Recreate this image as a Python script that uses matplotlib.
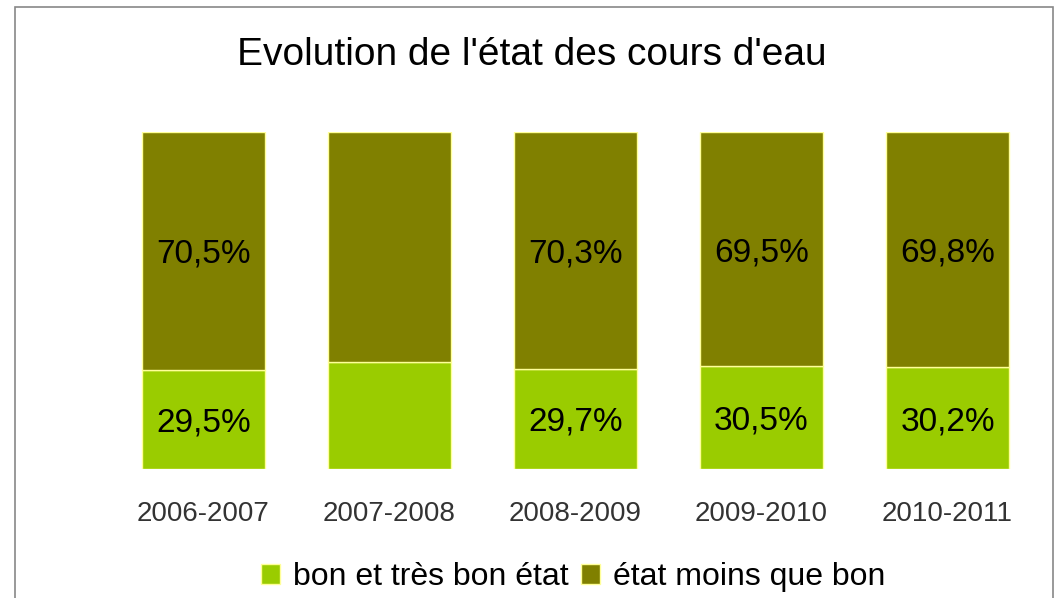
import numpy as np
import matplotlib
matplotlib.use("Agg")
import matplotlib.pyplot as plt
from matplotlib.patches import Rectangle

plt.rcParams['font.family'] = ['Liberation Sans', 'DejaVu Sans']

# Data
years = ["2006-2007", "2007-2008", "2008-2009", "2009-2010", "2010-2011"]
bon = [29.5, 31.7, 29.7, 30.5, 30.2]
moins_bon = [70.5, 68.3, 70.3, 69.5, 69.8]
show_labels = [True, False, True, True, True]

green = "#9acc00"
olive = "#808000"
edge = "#ffff99"

fig = plt.figure(figsize=(10.54, 5.98), dpi=100)
W, H = 1054, 598

# Plot area in pixel coordinates
left, right, top, bottom = 110.5, 1040.5, 132, 469
ax = fig.add_axes([left / W, 1 - bottom / H, (right - left) / W, (bottom - top) / H])

x = np.arange(len(years))
ax.bar(x, bon, width=0.66, color=green, edgecolor=edge, linewidth=1)
ax.bar(x, moins_bon, width=0.66, bottom=bon, color=olive, edgecolor=edge, linewidth=1)

for i in range(len(years)):
    if show_labels[i]:
        ax.text(x[i], bon[i] / 2, ("%.1f%%" % bon[i]).replace(".", ","),
                ha="center", va="center_baseline", fontsize=24, color="black")
        ax.text(x[i], bon[i] + moins_bon[i] / 2, ("%.1f%%" % moins_bon[i]).replace(".", ","),
                ha="center", va="center_baseline", fontsize=24, color="black")

ax.set_xlim(-0.5, 4.5)
ax.set_ylim(0, 100)
ax.set_xticks(x)
ax.set_xticklabels(years, fontsize=20, color="#333333")
ax.tick_params(axis="x", length=0, pad=23)
ax.set_yticks([])
for s in ax.spines.values():
    s.set_visible(False)

# Title
fig.text(531.5 / W, 1 - 55 / H, "Evolution de l'état des cours d'eau",
         ha="center", va="center", fontsize=28)

# Legend
handles = [Rectangle((0, 0), 1, 1, facecolor=green, edgecolor=edge),
           Rectangle((0, 0), 1, 1, facecolor=olive, edgecolor=edge)]
fig.legend(handles, ["bon et très bon état", "état moins que bon"],
           loc="center", bbox_to_anchor=(573 / W, 1 - 577 / H), ncol=2,
           frameon=False, fontsize=23, handlelength=0.6, handleheight=0.6,
           handletextpad=0.4, columnspacing=0.4, borderpad=0)

# Outer border (bottom edge lies outside the image)
fig.patches.append(Rectangle((14.5 / W, -0.05), (1053 - 14.5) / W, 1.05 - 7.5 / H,
                             transform=fig.transFigure, fill=False,
                             edgecolor="#888888", linewidth=1.2))

fig.savefig("out.png", dpi=100)
